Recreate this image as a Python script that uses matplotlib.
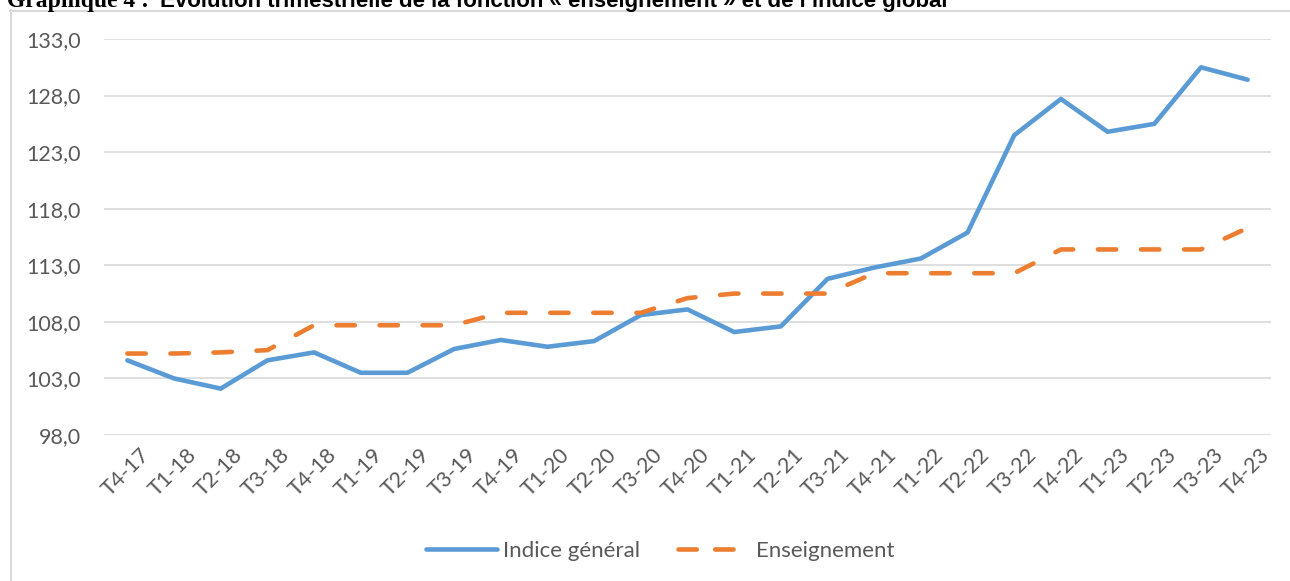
import matplotlib.pyplot as plt
import numpy as np
from matplotlib.lines import Line2D
from matplotlib.ticker import FuncFormatter
from matplotlib.transforms import ScaledTranslation

# quarters T4-17 .. T4-23
trimestres = ['T4-17',
              'T1-18', 'T2-18', 'T3-18', 'T4-18',
              'T1-19', 'T2-19', 'T3-19', 'T4-19',
              'T1-20', 'T2-20', 'T3-20', 'T4-20',
              'T1-21', 'T2-21', 'T3-21', 'T4-21',
              'T1-22', 'T2-22', 'T3-22', 'T4-22',
              'T1-23', 'T2-23', 'T3-23', 'T4-23']

indice_general = [104.6,
                  103.0, 102.1, 104.6, 105.3,
                  103.5, 103.5, 105.6, 106.4,
                  105.8, 106.3, 108.6, 109.1,
                  107.1, 107.6, 111.8, 112.8,
                  113.6, 115.9, 124.5, 127.7,
                  124.8, 125.5, 130.5, 129.4]

enseignement = [105.2,
                105.2, 105.3, 105.5, 107.7,
                107.7, 107.7, 107.7, 108.8,
                108.8, 108.8, 108.8, 110.1,
                110.5, 110.5, 110.5, 112.3,
                112.3, 112.3, 112.3, 114.4,
                114.4, 114.4, 114.4, 116.3]

y_ticks = [98, 103, 108, 113, 118, 123, 128, 133]

W, H = 1290, 581
blue = '#5B9BD5'
orange = '#ED7D31'
grey_txt = '#595959'
grid_col = '#D9D9D9'
font = 'Lato'

fig = plt.figure(figsize=(W / 100, H / 100), dpi=100)

# plot area in pixels: x 104..1271, y 39..435
ax = fig.add_axes([104 / W, 1 - 435 / H, (1271 - 104) / W, (435 - 39) / H])

x = np.arange(len(trimestres))
ax.plot(x, indice_general, color=blue, lw=3.3, solid_joinstyle='round',
        solid_capstyle='round', label='Indice général')
ax.plot(x, enseignement, color=orange, lw=3.3, dashes=(4.0, 5.4),
        dash_capstyle='round', dash_joinstyle='round', label='Enseignement')

ax.set_xlim(-0.5, len(trimestres) - 0.5)
ax.set_ylim(98, 133)
ax.set_yticks(y_ticks)
ax.yaxis.set_major_formatter(FuncFormatter(lambda v, p: f'{v:.1f}'.replace('.', ',')))
ax.set_xticks(x)
ax.set_xticklabels(trimestres, rotation=45, ha='right', va='top',
                   rotation_mode='anchor')

ax.grid(axis='y', color=grid_col, lw=1.2)
ax.set_axisbelow(True)
for s in ax.spines.values():
    s.set_visible(False)
ax.tick_params(axis='both', length=0, labelcolor=grey_txt, labelsize=15.5)
ax.tick_params(axis='y', pad=16.5)
ax.tick_params(axis='x', pad=7)
shift = ScaledTranslation(12 / 100, 0, fig.dpi_scale_trans)
for lab in ax.get_xticklabels():
    lab.set_fontfamily(font)
    lab.set_transform(lab.get_transform() + shift)
for lab in ax.get_yticklabels():
    lab.set_fontfamily(font)

# legend
handles = [Line2D([], [], color=blue, lw=3.3, solid_capstyle='round'),
           Line2D([], [], color=orange, lw=3.3, dashes=(4.0, 4.0), dash_capstyle='round')]
fig.legend(handles, ['Indice général', 'Enseignement'], loc='center',
           bbox_to_anchor=(660 / W, 1 - 551 / H), ncol=2, frameon=False,
           handlelength=3.2, handletextpad=0.3, columnspacing=1.7,
           prop={'family': font, 'size': 16}, labelcolor=grey_txt)

# chart border (cut at right/bottom like the source)
fig.add_artist(Line2D([10 / W, 1], [1 - 10.5 / H, 1 - 10.5 / H],
                      transform=fig.transFigure, color=grid_col, lw=1.5))
fig.add_artist(Line2D([10.5 / W, 10.5 / W], [0, 1 - 10 / H],
                      transform=fig.transFigure, color=grid_col, lw=1.5))

# title, partly cut at the top as in the source page
fig.text(149 / W, 1 - 7 / H, 'Graphique 4 :', ha='right', va='baseline',
         family='Liberation Serif', weight='bold', fontsize=17, color='black')
fig.text(160 / W, 1 - 7 / H,
         'Évolution trimestrielle de la fonction « enseignement » et de l\u2019indice global',
         ha='left', va='baseline', family='Liberation Sans', weight='bold',
         fontsize=16, color='black')

fig.savefig('out.png', dpi=100)
